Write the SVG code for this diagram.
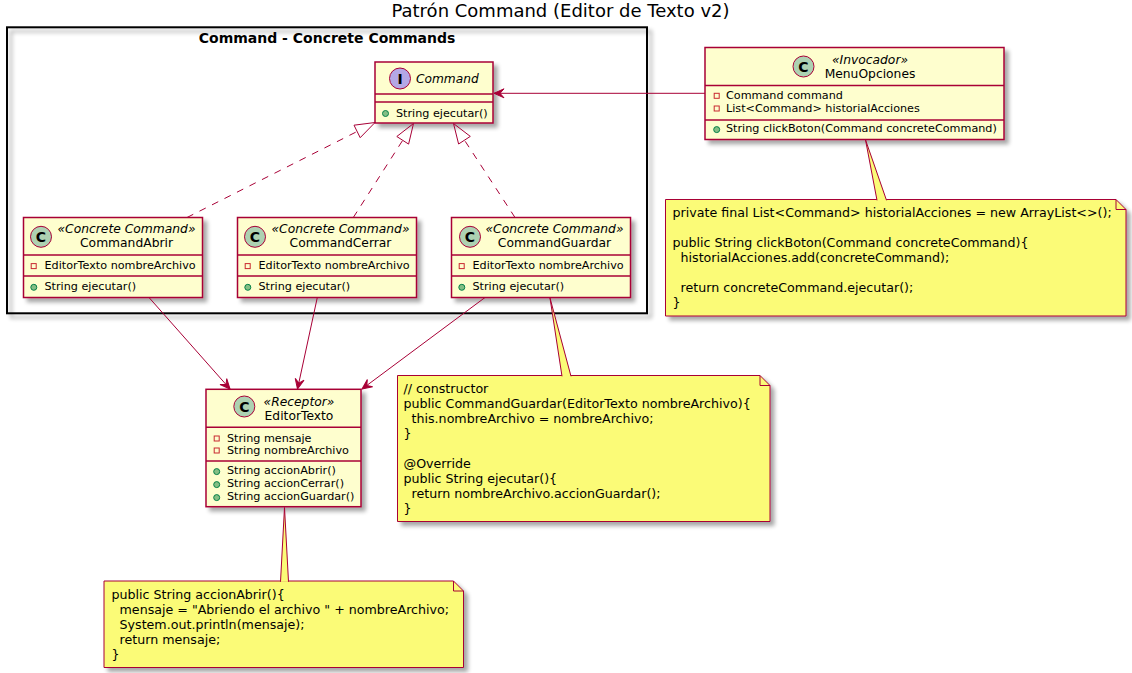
<svg xmlns="http://www.w3.org/2000/svg" width="1132" height="673" viewBox="0 0 1132 673">
<defs>
<filter id="sh" x="-5%" y="-5%" width="115%" height="125%">
<feGaussianBlur in="SourceAlpha" stdDeviation="2"/>
<feOffset dx="4" dy="4" result="o"/>
<feComponentTransfer><feFuncA type="linear" slope="0.35"/></feComponentTransfer>
<feMerge><feMergeNode/><feMergeNode in="SourceGraphic"/></feMerge>
</filter>
<marker id="arr" viewBox="-11 -6 12 12" refX="0" refY="0" markerWidth="12" markerHeight="12" markerUnits="userSpaceOnUse" orient="auto">
<path d="M0,0 L-10,-4.5 L-6,0 L-10,4.5 Z" fill="#A80036" stroke="#A80036" stroke-width="1"/>
</marker>
</defs>
<style>
text { font-family: "DejaVu Sans", "Noto Sans", sans-serif; fill: #000; }
.title { font-size: 18px; text-anchor: middle; }
.pkgl { font-size: 14px; font-weight: bold; text-anchor: middle; }
.pkg { fill: none; stroke: #000; stroke-width: 2; filter: url(#sh); }
.box { fill: #FEFECE; stroke: #A80036; stroke-width: 1.5; filter: url(#sh); }
.sep { stroke: #A80036; stroke-width: 1.5; }
.cc { fill: #ADD1B2; stroke: #A80036; stroke-width: 1; }
.ci { fill: #B4A7E5; stroke: #A80036; stroke-width: 1; }
.let { font-size: 14px; font-weight: bold; text-anchor: middle; }
.st { font-size: 12.3px; font-style: italic; text-anchor: middle; }
.nm { font-size: 12.3px; text-anchor: middle; }
.inm { font-size: 12.2px; font-style: italic; }
.mem { font-size: 11.2px; }
.priv { fill: none; stroke: #C82930; stroke-width: 1; }
.pub { fill: #84BE84; stroke: #038048; stroke-width: 1; }
.note { fill: #FBFB77; stroke: #A80036; stroke-width: 1; filter: url(#sh); }
.fold { fill: none; stroke: #A80036; stroke-width: 1; }
.nt { font-size: 12.65px; white-space: pre; }
.ln { stroke: #A80036; stroke-width: 1; fill: none; }
.dash { stroke: #A80036; stroke-width: 1; fill: none; stroke-dasharray: 7,7; }
.tri { fill: none; stroke: #A80036; stroke-width: 1; }
.wedge { fill: #FBFB77; stroke: #A80036; stroke-width: 1; }
</style>
<rect x="0" y="0" width="1132" height="673" fill="#FFFFFF"/>
<text class="title" x="560.5" y="17">Patrón Command (Editor de Texto v2)</text>

<g id="package-concrete-commands">
<rect class="pkg" x="7" y="27.3" width="640" height="286"/>
<text class="pkgl" x="327" y="42.5">Command - Concrete Commands</text>
</g>

<g id="note-menu">
<path class="note" d="M665.5,199.5 H1116 L1126,209.5 V316 H665.5 Z"/>
<path class="fold" d="M1116,199.5 V209.5 H1126"/>
<text class="nt" xml:space="preserve" x="672.5" y="216.7">private final List&lt;Command&gt; historialAcciones = new ArrayList&lt;&gt;();</text>
<text class="nt" xml:space="preserve" x="672.5" y="246.7">public String clickBoton(Command concreteCommand){</text>
<text class="nt" xml:space="preserve" x="672.5" y="261.7">  historialAcciones.add(concreteCommand);</text>
<text class="nt" xml:space="preserve" x="672.5" y="291.7">  return concreteCommand.ejecutar();</text>
<text class="nt" xml:space="preserve" x="672.5" y="306.7">}</text>
</g>

<g id="note-guardar">
<path class="note" d="M397.5,375.5 H760 L770,385.5 V521.5 H397.5 Z"/>
<path class="fold" d="M760,375.5 V385.5 H770"/>
<text class="nt" xml:space="preserve" x="403.5" y="392.7">// constructor</text>
<text class="nt" xml:space="preserve" x="403.5" y="407.7">public CommandGuardar(EditorTexto nombreArchivo){</text>
<text class="nt" xml:space="preserve" x="403.5" y="422.7">  this.nombreArchivo = nombreArchivo;</text>
<text class="nt" xml:space="preserve" x="403.5" y="437.7">}</text>
<text class="nt" xml:space="preserve" x="403.5" y="467.7">@Override</text>
<text class="nt" xml:space="preserve" x="403.5" y="482.7">public String ejecutar(){</text>
<text class="nt" xml:space="preserve" x="403.5" y="497.7">  return nombreArchivo.accionGuardar();</text>
<text class="nt" xml:space="preserve" x="403.5" y="512.7">}</text>
</g>

<g id="note-editor">
<path class="note" d="M104,581 H453.5 L463.5,591 V667.5 H104 Z"/>
<path class="fold" d="M453.5,581 V591 H463.5"/>
<text class="nt" xml:space="preserve" x="111.5" y="599.3">public String accionAbrir(){</text>
<text class="nt" xml:space="preserve" x="111.5" y="614.3">  mensaje = "Abriendo el archivo " + nombreArchivo;</text>
<text class="nt" xml:space="preserve" x="111.5" y="629.3">  System.out.println(mensaje);</text>
<text class="nt" xml:space="preserve" x="111.5" y="644.3">  return mensaje;</text>
<text class="nt" xml:space="preserve" x="111.5" y="659.3">}</text>
</g>

<g id="command">
<rect class="box" x="375" y="62" width="118" height="61"/>
<line class="sep" x1="375" y1="94" x2="493" y2="94"/>
<line class="sep" x1="375" y1="102" x2="493" y2="102"/>
<circle class="ci" cx="400" cy="78.5" r="10.5"/>
<text class="let" x="400" y="83.5">I</text>
<text class="inm" x="416" y="82.7">Command</text>
<circle class="pub" cx="385.5" cy="113.5" r="3"/>
<text class="mem" x="396" y="116.7">String ejecutar()</text>
</g>

<g id="command-abrir">
<rect class="box" x="23.5" y="217.5" width="179" height="80"/>
<line class="sep" x1="23.5" y1="255" x2="202.5" y2="255"/>
<line class="sep" x1="23.5" y1="276" x2="202.5" y2="276"/>
<circle class="cc" cx="41" cy="236.8" r="10.5"/>
<text class="let" x="41" y="241.8">C</text>
<text class="st" x="126.5" y="233.3">«Concrete Command»</text>
<text class="nm" x="126.5" y="246.7">CommandAbrir</text>
<rect class="priv" x="31.2" y="263.6" width="5" height="5"/>
<text class="mem" x="44.5" y="269.3">EditorTexto nombreArchivo</text>
<circle class="pub" cx="33.8" cy="287.3" r="3"/>
<text class="mem" x="44.5" y="290">String ejecutar()</text>
</g>

<g id="command-cerrar">
<rect class="box" x="237.5" y="217.5" width="179" height="80"/>
<line class="sep" x1="237.5" y1="255" x2="416.5" y2="255"/>
<line class="sep" x1="237.5" y1="276" x2="416.5" y2="276"/>
<circle class="cc" cx="255" cy="236.8" r="10.5"/>
<text class="let" x="255" y="241.8">C</text>
<text class="st" x="340.5" y="233.3">«Concrete Command»</text>
<text class="nm" x="340.5" y="246.7">CommandCerrar</text>
<rect class="priv" x="245.2" y="263.6" width="5" height="5"/>
<text class="mem" x="258.5" y="269.3">EditorTexto nombreArchivo</text>
<circle class="pub" cx="247.8" cy="287.3" r="3"/>
<text class="mem" x="258.5" y="290">String ejecutar()</text>
</g>

<g id="command-guardar">
<rect class="box" x="451.5" y="217.5" width="179" height="80"/>
<line class="sep" x1="451.5" y1="255" x2="630.5" y2="255"/>
<line class="sep" x1="451.5" y1="276" x2="630.5" y2="276"/>
<circle class="cc" cx="470" cy="236.8" r="10.5"/>
<text class="let" x="470" y="241.8">C</text>
<text class="st" x="554.5" y="233.3">«Concrete Command»</text>
<text class="nm" x="554.5" y="246.7">CommandGuardar</text>
<rect class="priv" x="459.2" y="263.6" width="5" height="5"/>
<text class="mem" x="472.5" y="269.3">EditorTexto nombreArchivo</text>
<circle class="pub" cx="461.8" cy="287.3" r="3"/>
<text class="mem" x="472.5" y="290">String ejecutar()</text>
</g>

<g id="menu-opciones">
<rect class="box" x="705" y="47.5" width="299" height="92"/>
<line class="sep" x1="705" y1="85.5" x2="1004" y2="85.5"/>
<line class="sep" x1="705" y1="120" x2="1004" y2="120"/>
<circle class="cc" cx="803.5" cy="66.5" r="10.5"/>
<text class="let" x="803.5" y="71.5">C</text>
<text class="st" x="870" y="64">«Invocador»</text>
<text class="nm" x="870" y="78.3">MenuOpciones</text>
<rect class="priv" x="714.2" y="93.3" width="5" height="5"/>
<text class="mem" x="726" y="99">Command command</text>
<rect class="priv" x="714.2" y="106" width="5" height="5"/>
<text class="mem" x="726" y="111.7">List&lt;Command&gt; historialAcciones</text>
<circle class="pub" cx="716.7" cy="129.6" r="3"/>
<text class="mem" x="726" y="132.3">String clickBoton(Command concreteCommand)</text>
</g>

<g id="editor-texto">
<rect class="box" x="206" y="389.3" width="155" height="117.4"/>
<line class="sep" x1="206" y1="427.3" x2="361" y2="427.3"/>
<line class="sep" x1="206" y1="461" x2="361" y2="461"/>
<circle class="cc" cx="244.3" cy="406.5" r="10.5"/>
<text class="let" x="244.3" y="411.5">C</text>
<text class="st" x="299" y="405.7">«Receptor»</text>
<text class="nm" x="299" y="420">EditorTexto</text>
<rect class="priv" x="214.2" y="436" width="5" height="5"/>
<text class="mem" x="227" y="441.7">String mensaje</text>
<rect class="priv" x="214.2" y="448" width="5" height="5"/>
<text class="mem" x="227" y="453.7">String nombreArchivo</text>
<circle class="pub" cx="216.7" cy="471.6" r="3"/>
<text class="mem" x="227" y="474.3">String accionAbrir()</text>
<circle class="pub" cx="216.7" cy="484.6" r="3"/>
<text class="mem" x="227" y="487.3">String accionCerrar()</text>
<circle class="pub" cx="216.7" cy="497.6" r="3"/>
<text class="mem" x="227" y="500.3">String accionGuardar()</text>
</g>

<g id="connectors">
<line class="ln" x1="705" y1="93.3" x2="494" y2="93.3" marker-end="url(#arr)"/>
<line class="dash" x1="187" y1="217.5" x2="357.1" y2="131.5"/>
<polygon class="tri" points="375,122.5 354,125.2 360.2,137.7"/>
<line class="dash" x1="353.3" y1="217.5" x2="402.7" y2="140.3"/>
<polygon class="tri" points="413.5,123.5 408.6,144.1 396.8,136.5"/>
<line class="dash" x1="515" y1="217.5" x2="464.5" y2="140.2"/>
<polygon class="tri" points="453.5,123.5 470.3,136.4 458.6,144"/>
<line class="ln" x1="149" y1="297.5" x2="230" y2="389" marker-end="url(#arr)"/>
<line class="ln" x1="317.3" y1="297.5" x2="297.5" y2="389" marker-end="url(#arr)"/>
<line class="ln" x1="485" y1="297.5" x2="362" y2="389" marker-end="url(#arr)"/>
<path class="wedge" d="M877,200.3 L865.5,139.8 L886.5,200.3"/>
<path class="wedge" d="M562,376.3 L550,298 L571,376.3"/>
<path class="wedge" d="M280.5,581.8 L284.5,507.5 L288.5,581.8"/>
</g>
</svg>
